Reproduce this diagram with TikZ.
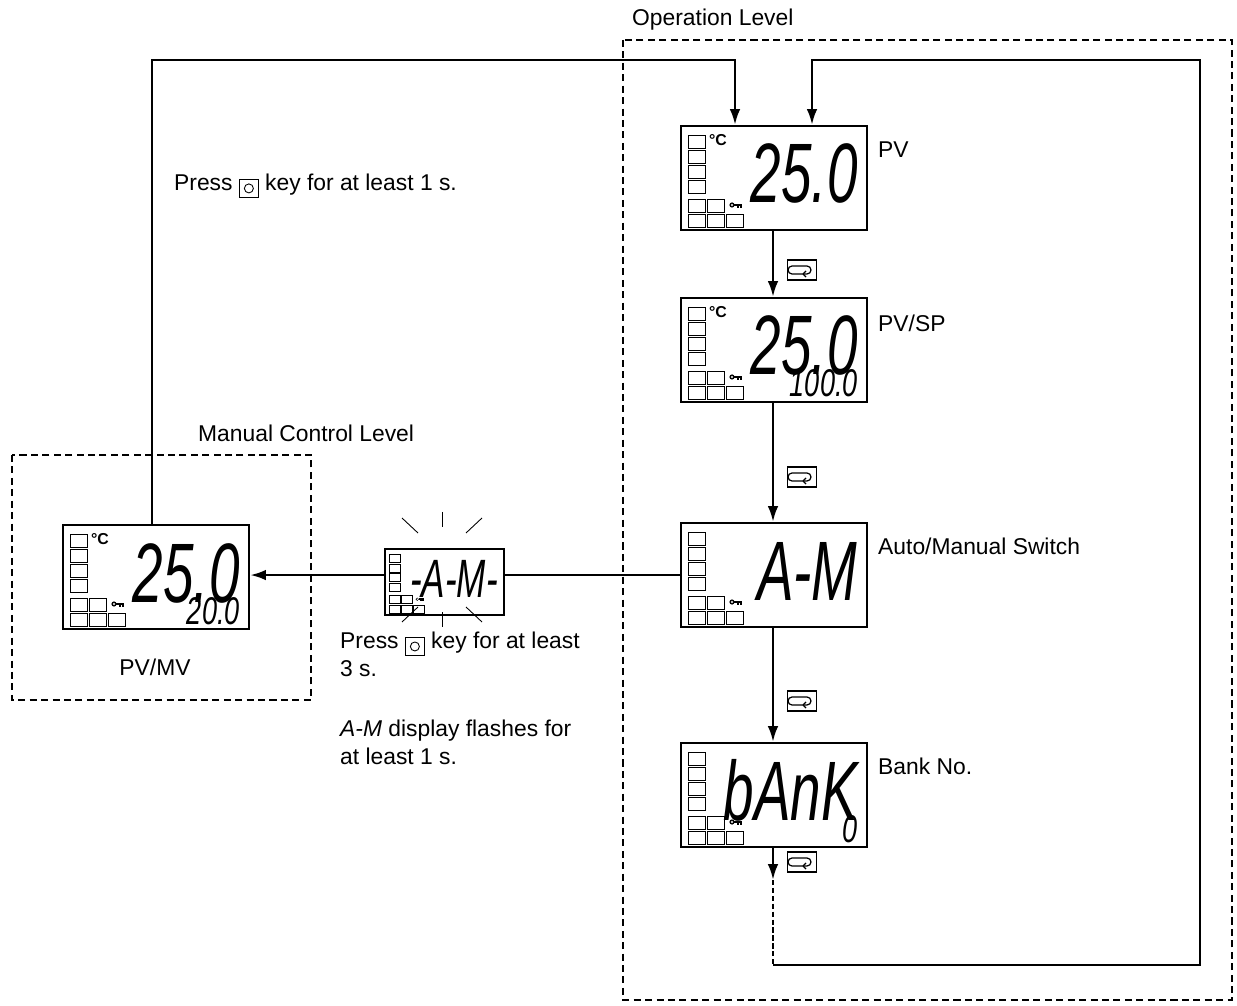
\documentclass[tikz,border=0pt]{standalone}
\usepackage{fontspec}
\usepackage{graphicx}
\setmainfont{Liberation Sans}
\usetikzlibrary{arrows.meta,positioning}

\tikzset{
  px/.style={x=0.02cm,y=-0.02cm},
  frame/.style={draw,dash pattern=on 4pt off 2.5pt,line width=0.6pt},
  flow/.style={line width=1.5pt,-{Latex[length=9pt,width=6pt]}},
  link/.style={line width=1.5pt},
  lbl/.style={font=\fontsize{13}{16}\selectfont,align=left},
  seg/.style={font=\fontsize{48}{48}\selectfont\itshape,inner sep=0pt},
  segsub/.style={font=\fontsize{22}{22}\selectfont\itshape,inner sep=0pt},
}

% LCD panel: name, x, y (top left), scale, main text, sub text
\newcommand{\lcdpanel}[6]{%
  \begin{scope}[shift={(#2,#3)},scale=#4,transform shape]
    \node[draw,line width=1.2pt,minimum width=3.72cm,minimum height=2.08cm,
      inner sep=0pt,anchor=north west] (#1) at (0,0) {};
    \foreach \yy in {10,25,40,55}
      \draw[line width=0.5pt] (8,\yy) rectangle ++(17,13);
    \foreach \xx in {8,27}
      \draw[line width=0.5pt] (\xx,74) rectangle ++(17,13);
    \foreach \xx in {8,27,46}
      \draw[line width=0.5pt] (\xx,89) rectangle ++(17,13);
    \fill (52,80) circle (2.6);
    \fill[white] (52,80) circle (1.2);
    \draw[line width=1pt] (54,80) -- (62,80) (58,80) -- (58,83) (61,80) -- (61,83);
    \node[seg,anchor=base east] at (178,78) {\scalebox{0.65}[1]{#5}};
    \node[segsub,anchor=base east] at (178,100) {\scalebox{0.7}[1]{#6}};
  \end{scope}}
\newcommand{\degc}[2]{\node[font=\fontsize{9}{9}\selectfont\bfseries,inner sep=0pt] at (#1,#2) {°C};}
% mode key
\newcommand{\modekey}[3]{%
  \node[draw,line width=0.6pt,minimum width=0.58cm,minimum height=0.4cm,inner sep=0pt] (#1) at (#2,#3) {};
  \draw[line width=0.7pt] ([xshift=-0.2cm,yshift=0.08cm]#1.center) -- ++(0.3cm,0)
    arc[start angle=90,end angle=-90,radius=0.08cm] -- ++(-0.3cm,0)
    arc[start angle=270,end angle=90,radius=0.08cm];
  \draw[line width=0.7pt] ([xshift=0.02cm,yshift=-0.08cm]#1.center) -- ++(0.06cm,0.06cm)
    ([xshift=0.02cm,yshift=-0.08cm]#1.center) -- ++(0.06cm,-0.06cm);}
\newcommand{\okey}{\tikz[x=1cm,y=1cm,baseline=-0.1em]{\draw[line width=0.5pt] (0,-0.18) rectangle (0.38,0.18);
  \draw[line width=0.5pt] (0.19,0) circle (0.09);}}

\begin{document}
\begin{tikzpicture}[px]
  \useasboundingbox (0,0) rectangle (1237,1006);

  % level frames
  \draw[frame] (623,40) rectangle (1232,1000);
  \draw[frame] (12,455) rectangle (311,700);
  \node[lbl,anchor=west] (oplevel) at (626,20) {Operation Level};
  \node[lbl,anchor=west] (mclevel) at (192,433) {Manual Control Level};

  % displays
  \lcdpanel{pv}{680}{125}{1}{25.0}{}
  \lcdpanel{pvsp}{680}{297}{1}{25.0}{100.0}
  \lcdpanel{am}{680}{522}{1}{A-M}{}
  \lcdpanel{bank}{680}{742}{1}{bAnK}{0}
  \lcdpanel{pvmv}{62}{524}{1}{25.0}{20.0}
  \lcdpanel{flash}{384}{548}{0.64}{-A-M-}{}
  \degc{718}{140} \degc{718}{312} \degc{100}{539}

  % flash rays
  \foreach \ax/\ay/\bx/\by in {442/512/442/527, 402/518/418/533, 482/518/466/533,
      402/622/418/607, 482/622/466/607, 442/612/442/627}
    \draw[line width=0.5pt] (\ax,\ay) -- (\bx,\by);

  \node[lbl,anchor=west] (tpv) at (872,150) {PV};
  \node[lbl,anchor=west] (tpvsp) at (872,323) {PV/SP};
  \node[lbl,anchor=west] (tam) at (872,546) {Auto/Manual Switch};
  \node[lbl,anchor=west] (tbank) at (872,766) {Bank No.};
  \node[lbl] (tpvmv) at (155,667) {PV/MV};

  % transitions in operation level
  \draw[flow] (pv.south -| 773,0) -- (pvsp.north -| 773,0);
  \draw[flow] (pvsp.south -| 773,0) -- (am.north -| 773,0);
  \draw[flow] (am.south -| 773,0) -- (bank.north -| 773,0);
  \coordinate (dots) at (773,880);
  \draw[flow] (bank.south -| 773,0) -- (dots);
  \draw[link,dash pattern=on 3pt off 1.5pt] (dots) -- (773,965);
  \draw[flow] (773,965) -- (1200,965) -- (1200,60) -- (812,60) -- (pv.north -| 812,0);
  \modekey{k1}{802}{270} \modekey{k2}{802}{477} \modekey{k3}{802}{701} \modekey{k4}{802}{862}

  % to and from manual control
  \draw[link] (am.west) -- (flash.east |- am.west);
  \draw[flow] (flash.west |- am.west) -- (pvmv.east |- am.west);
  \draw[flow] (pvmv.north -| 152,0) -- (152,60) -- (735,60) -- (pv.north -| 735,0);

  \node[lbl,anchor=west] (back) at (168,186) {Press \okey{} key for at least 1 s.};
  \node[lbl,anchor=north west] (hold) at (334,626) {Press \okey{} key for at least\\3 s.};
  \node[lbl,anchor=north west] (note) at (334,714) {{\itshape A-M} display flashes for\\at least 1 s.};
\end{tikzpicture}
\end{document}
